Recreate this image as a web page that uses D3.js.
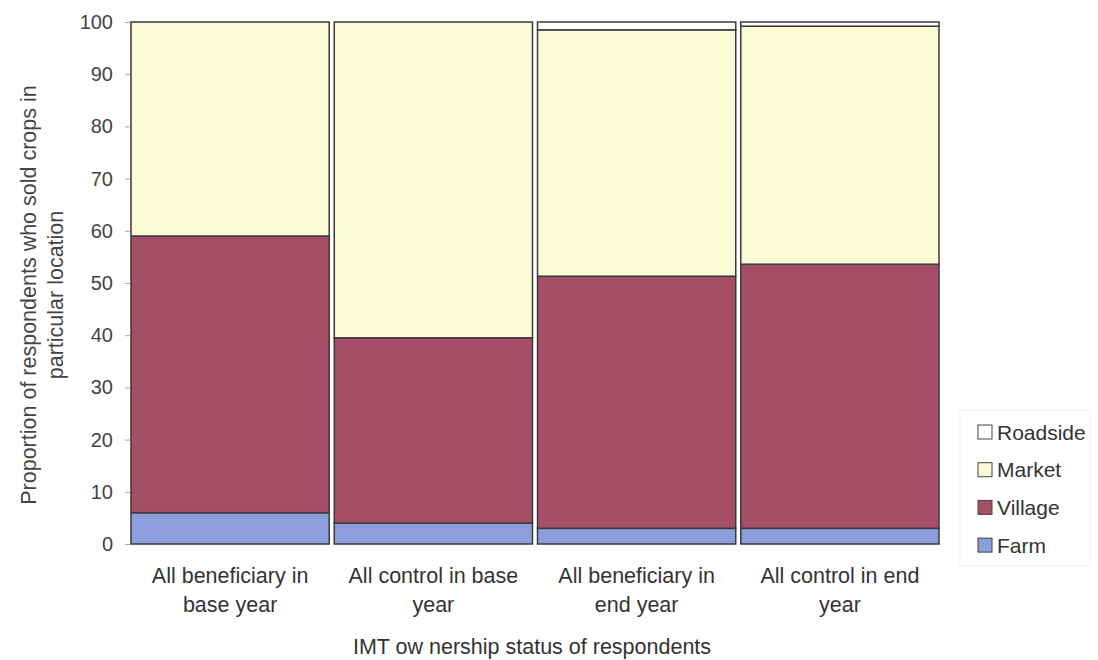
<!DOCTYPE html>
<html>
<head>
<meta charset="utf-8">
<script src="https://cdn.jsdelivr.net/npm/d3@7"></script>
<style>
  body { margin: 0; background: #fff; }
  svg { font-family: "Liberation Sans", Arial, sans-serif; }
</style>
</head>
<body>
<svg id="chart" width="1098" height="660"></svg>
<script>
// categories and series (stacked, bottom to top)
var groups = [
  ["All beneficiary in", "base year"],
  ["All control in base", "year"],
  ["All beneficiary in", "end year"],
  ["All control in end", "year"]
];
var seriesNames = ["Farm", "Village", "Market", "Roadside"];
var farm     = [6, 4, 3, 3];
var village  = [53, 35.5, 48.3, 50.6];
var market   = [41, 60.5, 47.2, 45.6];
var roadside = [0, 0, 1.5, 0.8];
var yTicks = [0, 10, 20, 30, 40, 50, 60, 70, 80, 90, 100];

var colors = {Farm: "#8d9edd", Village: "#a64d67", Market: "#fbfbd6", Roadside: "#ffffff"};

var svg = d3.select("#chart");
var margin = {top: 22, left: 130, right: 158, bottom: 116};
var width = 1098 - margin.left - margin.right;
var height = 660 - margin.top - margin.bottom;
var g = svg.append("g").attr("transform", "translate(" + margin.left + "," + margin.top + ")");

var rows = groups.map(function(d, i) {
  return {key: i, Farm: farm[i], Village: village[i], Market: market[i], Roadside: roadside[i]};
});

var x = d3.scaleBand().domain(d3.range(groups.length)).range([0, width]).paddingInner(0.015).paddingOuter(0);
var y = d3.scaleLinear().domain([0, 100]).range([height, 0]);

var stack = d3.stack().keys(seriesNames);

g.selectAll(".serie")
  .data(stack(rows))
  .enter().append("g")
    .attr("class", "serie")
    .attr("fill", function(d) { return colors[d.key]; })
  .selectAll("rect")
  .data(function(d) { return d; })
  .enter().append("rect")
    .attr("x", function(d) { return x(d.data.key) + 1; })
    .attr("y", function(d) { return y(d[1]); })
    .attr("height", function(d) { return y(d[0]) - y(d[1]); })
    .attr("width", x.bandwidth() - 2)
    .attr("stroke", "#3a3a3a")
    .attr("stroke-width", 1.5);

// y axis
var yAxis = g.append("g")
  .call(d3.axisLeft(y).tickValues(yTicks).tickSize(5).tickPadding(12));
yAxis.select(".domain").attr("stroke", "#666");
yAxis.selectAll(".tick line").attr("stroke", "#aaa");
yAxis.selectAll("text").attr("fill", "#444").style("font-size", "20px");

// x labels (two lines)
var xl = g.append("g").attr("transform", "translate(0," + height + ")");
xl.selectAll("text")
  .data(groups)
  .enter().append("text")
    .attr("text-anchor", "middle")
    .attr("fill", "#333")
    .style("font-size", "21.5px")
    .attr("x", function(d, i) { return x(i) + x.bandwidth() / 2; })
    .attr("y", 39)
    .each(function(d) {
      var t = d3.select(this);
      d.forEach(function(line, j) {
        t.append("tspan")
          .attr("x", t.attr("x"))
          .attr("dy", j === 0 ? 0 : 29)
          .text(line);
      });
    });

// axis titles
svg.append("text")
  .attr("x", margin.left + width / 2 - 3)
  .attr("y", 654)
  .attr("text-anchor", "middle")
  .attr("fill", "#333")
  .style("font-size", "21.5px")
  .text("IMT ow nership status of respondents");

var yt = svg.append("text")
  .attr("transform", "translate(36,295) rotate(-90)")
  .attr("text-anchor", "middle")
  .attr("fill", "#444")
  .style("font-size", "21.5px");
yt.append("tspan").attr("x", 0).attr("dy", 0).text("Proportion of respondents who sold crops in");
yt.append("tspan").attr("x", 0).attr("dy", 27).text("particular location");

// legend
var lg = svg.append("g").attr("transform", "translate(960,410)");
lg.append("rect")
  .attr("width", 130).attr("height", 156)
  .attr("fill", "#fff").attr("stroke", "#f2f2f2");
var items = seriesNames.slice().reverse();
var li = lg.selectAll(".item")
  .data(items)
  .enter().append("g")
    .attr("class", "item")
    .attr("transform", function(d, i) { return "translate(18," + (22 + i * 37.7) + ")"; });
li.append("rect")
  .attr("x", 0).attr("y", -7)
  .attr("width", 14).attr("height", 14)
  .attr("fill", function(d) { return colors[d]; })
  .attr("stroke", "#444");
li.append("text")
  .attr("x", 19).attr("y", 0).attr("dy", "0.36em")
  .attr("fill", "#333")
  .style("font-size", "21px")
  .text(function(d) { return d; });
</script>
</body>
</html>
